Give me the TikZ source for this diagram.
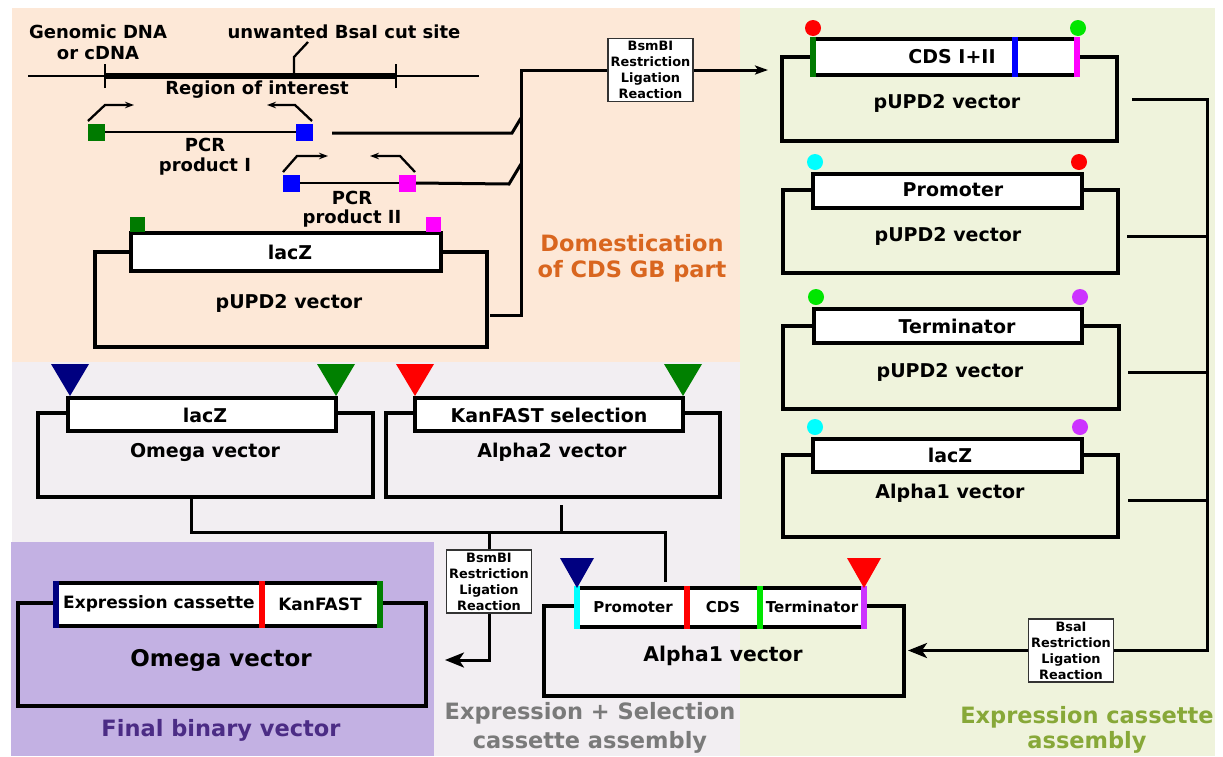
\documentclass[tikz,border=0pt]{standalone}
\usepackage{fontspec}
\setmainfont{DejaVu Sans}
\usetikzlibrary{arrows.meta}
\definecolor{peach}{HTML}{FDE8D7}
\definecolor{lgreen}{HTML}{EFF3DC}
\definecolor{lav}{HTML}{F2EEF2}
\definecolor{purp}{HTML}{C3B1E3}
\definecolor{orangeT}{HTML}{D9661F}
\definecolor{purpT}{HTML}{4B2C85}
\definecolor{grayT}{HTML}{7A7A7A}
\definecolor{greenT}{HTML}{87A838}
\definecolor{dgreen}{HTML}{007A00}
\definecolor{lime}{HTML}{00E600}
\definecolor{violetC}{HTML}{CC33FF}
\definecolor{navyC}{HTML}{000080}
\definecolor{tgreen}{HTML}{008000}
\definecolor{magC}{HTML}{FF00FF}
\definecolor{cyanC}{HTML}{00FFFF}
\newcommand{\vecrect}[5]{\node[outerbox, minimum width={#4-#2}, minimum height={#5-#3}] (#1) at ({(#2+#4)/2},{(#3+#5)/2}) {};}
\newcommand{\insrect}[5]{\node[insbox, minimum width={#4-#2}, minimum height={#5-#3}] (#1) at ({(#2+#4)/2},{(#3+#5)/2}) {};}
\begin{document}
\begin{tikzpicture}[x=1pt,y=-1pt,
  outerbox/.style={draw, line width=3.2pt, inner sep=0pt, outer sep=0pt},
  insbox/.style={draw, fill=white, line width=3.2pt, inner sep=0pt, outer sep=0pt},
  conn/.style={line width=3pt},
  prim/.style={line width=2.3pt, -{Stealth[length=9pt,width=6.5pt]}},
  t18/.style={font=\fontsize{18}{21}\selectfont\bfseries, inner sep=0pt},
  t19/.style={font=\fontsize{19}{23}\selectfont\bfseries, inner sep=0pt},
  t15/.style={font=\fontsize{15}{18}\selectfont\bfseries, inner sep=0pt},
  t17/.style={font=\fontsize{17}{20}\selectfont\bfseries, inner sep=0pt},
  t20/.style={font=\fontsize{20.3}{24}\selectfont\bfseries, inner sep=0pt},
  t23/.style={font=\fontsize{23}{27}\selectfont\bfseries, inner sep=0pt},
  big/.style={font=\fontsize{22.5}{27}\selectfont\bfseries, inner sep=0pt},
  react/.style={draw=black!80, fill=white, line width=1.5pt, minimum width=85pt, minimum height=63pt, inner sep=0pt, align=center, font=\fontsize{12.9}{16}\selectfont\bfseries},
  sq/.style={minimum size=17pt, inner sep=0pt, outer sep=0pt},
  sqs/.style={minimum size=15pt, inner sep=0pt, outer sep=0pt},
  dot/.style={circle, minimum size=16pt, inner sep=0pt},
  bar/.style={line width=6.5pt},
  bigarrow/.style={conn, -{Stealth[length=19pt,width=15pt,inset=5pt]}}
]
\path[use as bounding box] (0,0) rectangle (1223,756);
% backgrounds
\fill[peach] (12,8) rectangle (740,362);
\fill[lgreen] (740,8) rectangle (1215,756);
\fill[lav] (12,362) rectangle (740,756);
\fill[purp] (11,542) rectangle (434,756);

% ---------- DNA ----------
\coordinate (dnaL) at (28,76);
\coordinate (dnaR) at (479,76);
\coordinate (roiL) at (105,76);
\coordinate (roiR) at (396,76);
\draw[line width=2.6pt] (dnaL) -- (dnaR);
\draw[line width=6.5pt] (roiL) -- (roiR);
\draw[line width=2.6pt] ([yshift=-12pt]roiL) -- ([yshift=12pt]roiL);
\draw[line width=2.6pt] ([yshift=-12pt]roiR) -- ([yshift=12pt]roiR);
\coordinate (cutp) at (294,76);
\draw[line width=2.3pt] (cutp) -- (294,57) -- (308,42);
\node[t18] (gdna) at (98,32) {Genomic DNA};
\node[t18] (cdna) at (98,53) {or cDNA};
\node[t18] (cut) at (344,32) {unwanted BsaI cut site};
\node[t18] (roi) at (257,90) {Region of interest};

% ---------- PCR I ----------
\node[sq, fill=dgreen] (g1) at (96.5,132) {};
\node[sq, fill=blue] (b1) at (304,132) {};
\draw[line width=2.6pt] (g1) -- (b1);
\draw[prim] (88,121) -- (105,105) -- (134,105);
\draw[prim] (312,121) -- (295,105) -- (267,105);
\node[t18] (pcr1a) at (205,145) {PCR};
\node[t18] (pcr1b) at (205,167) {product I};

% ---------- PCR II ----------
\node[sq, fill=blue] (b2) at (291,183) {};
\node[sq, fill=magC] (m2) at (407.5,183) {};
\draw[line width=2.6pt] (b2) -- (m2);
\draw[prim] (283,172) -- (297,156) -- (328,156);
\draw[prim] (415,172) -- (400,156) -- (370,156);
\node[t18] (pcr2a) at (352,198) {PCR};
\node[t18] (pcr2b) at (352,219) {product II};

% ---------- lower-left pUPD2 ----------
\vecrect{pv0}{95}{252}{487}{347}
\insrect{pi0}{131}{233}{441}{271}
\node[sqs, fill=dgreen] (g0) at (137.5,224.5) {};
\node[sqs, fill=magC] (m0) at (433.5,224.5) {};
\node[t19] (pi0t) at (290,252) {lacZ};
\node[t19] (pv0t) at (289,303) {pUPD2 vector};

% ---------- top connectors ----------
\node[react] (R1) at (650.5,70) {BsmBI\\Restriction\\Ligation\\Reaction};
\coordinate (p1s) at (332,133);
\draw[conn] (p1s) -- (512,133) -- (521,118);
\draw[conn] (m2.east) -- (509,184) -- (521,164);
\coordinate (pv0c) at (490,315);
\draw[conn] (pv0c) -- (521,315) -- (521,70) -- (R1.west);
\coordinate (cdsIn) at (768,70);
\draw[conn, -{Stealth[length=13pt,width=9pt,inset=3pt]}] (R1.east) -- (cdsIn);
\node[big, text=orangeT] (dom1) at (632,243) {Domestication};
\node[big, text=orangeT] (dom2) at (632,271) {of CDS GB part};

% ---------- right column ----------
% CDS I+II
\vecrect{rv1}{782}{57}{1117}{141}
\insrect{ri1}{813}{39}{1077}{75}
\draw[bar, dgreen] (813,37) -- (813,77);
\draw[bar, blue] (1015,37) -- (1015,77);
\draw[bar, magC] (1077,37) -- (1077,77);
\node[dot, fill=red] (d1a) at (813,28) {};
\node[dot, fill=lime] (d1b) at (1078,28) {};
\node[t19] (ri1t) at (952,57) {CDS I+II};
\node[t19] (rv1t) at (947,103) {pUPD2 vector};
% Promoter
\vecrect{rv2}{783}{190}{1118}{273}
\insrect{ri2}{813}{174}{1082}{208}
\node[dot, fill=cyanC] (d2a) at (815,162) {};
\node[dot, fill=red] (d2b) at (1079,162) {};
\node[t19] (ri2t) at (953,190) {Promoter};
\node[t19] (rv2t) at (948,236) {pUPD2 vector};
% Terminator
\vecrect{rv3}{783}{326}{1119}{409}
\insrect{ri3}{814}{309}{1082}{343}
\node[dot, fill=lime] (d3a) at (816,297) {};
\node[dot, fill=violetC] (d3b) at (1080,297) {};
\node[t19] (ri3t) at (957,326) {Terminator};
\node[t19] (rv3t) at (950,372) {pUPD2 vector};
% lacZ Alpha1
\vecrect{rv4}{783}{455}{1118}{537}
\insrect{ri4}{813}{439}{1082}{472}
\node[dot, fill=cyanC] (d4a) at (815,427) {};
\node[dot, fill=violetC] (d4b) at (1080,427) {};
\node[t19] (ri4t) at (950,455) {lacZ};
\node[t19] (rv4t) at (950,493) {Alpha1 vector};
% right bracket
\node[react] (R3) at (1071,650.5) {BsaI\\Restriction\\Ligation\\Reaction};
\coordinate (c1) at (1132,99);
\coordinate (c2) at (1127,236);
\coordinate (c3) at (1128,372);
\coordinate (c4) at (1128,500);
\coordinate (rb) at (1207,650.5);
\draw[conn] (c1) -- (1207,99) -- (rb) -- (R3.east);
\draw[conn] (c2) -- (1207,236);
\draw[conn] (c3) -- (1207,372);
\draw[conn] (c4) -- (1207,500);
\coordinate (a1In) at (908,650.5);
\draw[bigarrow] (R3.west) -- (a1In);
\node[big, text=greenT] (ec1) at (1087,717) {Expression cassette};
\node[big, text=greenT] (ec2) at (1087,742) {assembly};

% ---------- middle: Omega and Alpha2 ----------
\vecrect{mv1}{38}{413}{373}{497}
\insrect{mi1}{68}{398}{336}{431}
\fill[navyC] (51,364) -- (89,364) -- (70,396) -- cycle;
\fill[tgreen] (317,364) -- (355,364) -- (336,396) -- cycle;
\node[t19] (mi1t) at (205,415) {lacZ};
\node[t19] (mv1t) at (205,452) {Omega vector};
\vecrect{mv2}{386}{413}{720}{497}
\insrect{mi2}{415}{398}{683}{431}
\fill[red] (396,364) -- (434,364) -- (415,396) -- cycle;
\fill[tgreen] (664,364) -- (702,364) -- (683,396) -- cycle;
\node[t19] (mi2t) at (549,415) {KanFAST selection};
\node[t19] (mv2t) at (552,452) {Alpha2 vector};
% middle connectors
\coordinate (om) at (191,497);
\coordinate (al2) at (561,505);
\coordinate (hL) at (191,532);
\coordinate (hR) at (665,532);
\coordinate (a1top) at (665,582);
\draw[conn] (om) -- (hL) -- (hR) -- (a1top);
\draw[conn] (al2) -- (561,532);
\node[react] (R2) at (489,581.5) {BsmBI\\Restriction\\Ligation\\Reaction};
\draw[conn] (R2.north) -- (489,532);
\coordinate (finIn) at (445,660);
\draw[bigarrow] (R2.south) |- (finIn);

% ---------- Alpha1 bottom ----------
\vecrect{bv1}{544}{606}{904}{696}
\insrect{bi1}{577}{588}{864}{627}
\draw[bar, cyanC] (577,586) -- (577,629);
\draw[bar, red] (687,586) -- (687,629);
\draw[bar, lime] (760,586) -- (760,629);
\draw[bar, violetC] (864,586) -- (864,629);
\fill[navyC] (560,558) -- (594,558) -- (577,588) -- cycle;
\fill[red] (847,558) -- (881,558) -- (864,588) -- cycle;
\node[t15] (bpro) at (633,607) {Promoter};
\node[t15] (bcds) at (723,607) {CDS};
\node[t15] (bter) at (812,607) {Terminator};
\node[t20] (bv1t) at (723,656) {Alpha1 vector};
\node[big, text=grayT] (es1) at (590,713) {Expression + Selection};
\node[big, text=grayT] (es2) at (590,742) {cassette assembly};

% ---------- Final Omega ----------
\vecrect{fv1}{18}{603}{426}{706}
\insrect{fi1}{56}{583}{380}{626}
\draw[bar, navyC] (56,581) -- (56,628);
\draw[bar, red] (262,581) -- (262,628);
\draw[bar, tgreen] (380,581) -- (380,628);
\node[t17] (fex) at (159,604) {Expression cassette};
\node[t17] (fkan) at (320,604) {KanFAST};
\node[t23] (fv1t) at (221,660) {Omega vector};
\node[big, text=purpT] (fbv) at (221,730) {Final binary vector};
\end{tikzpicture}
\end{document}
